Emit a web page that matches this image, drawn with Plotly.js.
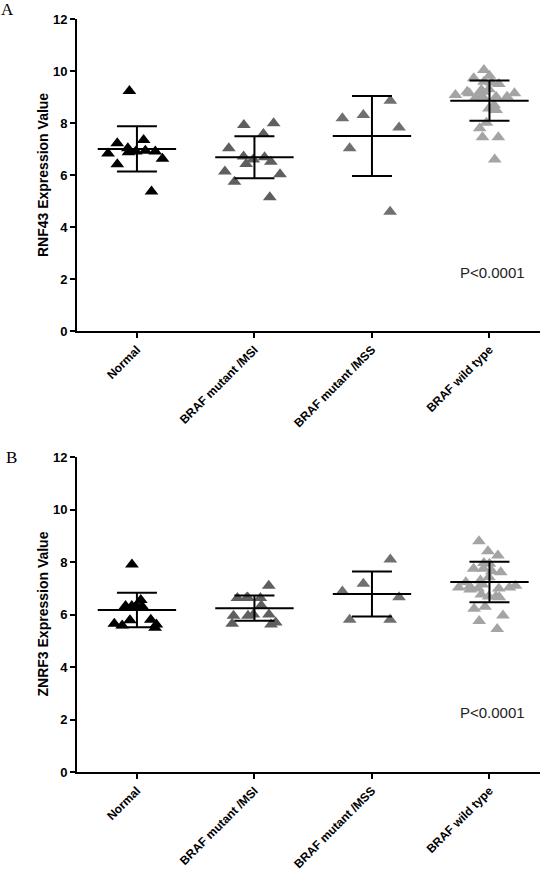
<!DOCTYPE html>
<html><head><meta charset="utf-8">
<script src="https://cdn.plot.ly/plotly-3.0.1.min.js"></script>
<style>html,body{margin:0;padding:0;background:#fff}#chart{width:550px;height:871px}</style>
</head><body><div id="chart"></div><script>
// Categories
var categories = ["Normal", "BRAF mutant /MSI", "BRAF mutant /MSS", "BRAF wild type"];

// Panel A: RNF43 expression values per group
var rnf43Normal = [9.23, 7.35, 7.22, 7.03, 6.93, 6.90, 6.90, 6.87, 6.83, 6.62, 6.41, 5.36];
var rnf43MSI = [7.92, 7.99, 7.58, 7.03, 6.71, 6.60, 6.42, 6.51, 6.68, 6.03, 6.13, 5.74, 5.14];
var rnf43MSS = [8.86, 8.31, 8.18, 7.83, 7.03, 4.59];
var rnf43WT = [10.04, 9.55, 9.82, 9.72, 9.59, 9.50, 9.30, 9.20, 9.14, 9.14, 9.20, 9.27, 9.01,
               8.95, 9.01, 9.01, 8.98, 9.08, 8.69, 8.50, 8.56, 8.01, 7.80, 7.45, 7.45, 6.60];
var rnf43Mean = [7.00, 6.68, 7.50, 8.86];
var rnf43SD = [0.87, 0.81, 1.54, 0.77];

// Panel B: ZNRF3 expression values per group
var znrf3Normal = [7.91, 6.32, 6.32, 6.32, 6.32, 6.55, 5.78, 5.62, 5.50, 5.58, 5.65, 5.80];
var znrf3MSI = [7.10, 6.63, 6.63, 6.63, 6.65, 6.34, 6.00, 5.95, 5.95, 6.00, 5.65, 5.70, 5.62];
var znrf3MSS = [8.10, 7.17, 6.88, 6.66, 5.80, 5.80];
var znrf3WT = [8.79, 8.25, 8.41, 7.93, 7.74, 7.96, 7.61, 7.65, 7.74, 7.42, 7.23, 7.30, 7.10,
               6.99, 6.95, 7.03, 6.99, 7.03, 7.07, 7.14, 6.69, 6.76, 6.66, 6.69, 6.30, 6.22,
               5.96, 5.45, 5.75];
var znrf3Mean = [6.17, 6.24, 6.78, 7.24];
var znrf3SD = [0.66, 0.48, 0.86, 0.77];

var yTickVals = [0, 2, 4, 6, 8, 10, 12];
var yTickText = ["0", "2", "4", "6", "8", "10", "12"];
var pLabel = "P<0.0001";

var groupColors = ["#000000", "#5f5f5f", "#707070", "#a4a4a4"];
var xTickFont = {family: "Liberation Sans, Arial, sans-serif", size: 12, color: "#000", weight: "bold"};
var yTickFont = {family: "Liberation Sans, Arial, sans-serif", size: 13, color: "#000", weight: "bold"};

function groupTrace(vals, i, xa, ya) {
  return {
    type: "box", x: vals.map(function(){ return categories[i]; }), y: vals,
    xaxis: xa, yaxis: ya, boxpoints: "all", jitter: 0.85, pointpos: 0, width: 0.7,
    fillcolor: "rgba(0,0,0,0)", line: {color: "rgba(0,0,0,0)", width: 0}, whiskerwidth: 0,
    marker: {symbol: "triangle-up", size: 12, color: groupColors[i], line: {width: 0}},
    showlegend: false, hoverinfo: "y"
  };
}
function meanTrace(means, sds, xa, ya) {
  return {
    type: "scatter", mode: "markers", x: categories, y: means, xaxis: xa, yaxis: ya,
    error_y: {type: "data", array: sds, visible: true, color: "#000", thickness: 2, width: 20},
    marker: {symbol: "line-ew", size: 56, color: "#000", line: {width: 2, color: "#000"}},
    showlegend: false, hoverinfo: "y"
  };
}

var data = [
  groupTrace(rnf43Normal, 0, "x", "y"), groupTrace(rnf43MSI, 1, "x", "y"),
  groupTrace(rnf43MSS, 2, "x", "y"), groupTrace(rnf43WT, 3, "x", "y"),
  groupTrace(znrf3Normal, 0, "x2", "y2"), groupTrace(znrf3MSI, 1, "x2", "y2"),
  groupTrace(znrf3MSS, 2, "x2", "y2"), groupTrace(znrf3WT, 3, "x2", "y2"),
  meanTrace(rnf43Mean, rnf43SD, "x", "y"), meanTrace(znrf3Mean, znrf3SD, "x2", "y2")
];

function xAxis(anchor) {
  return {
    anchor: anchor, type: "category", categoryorder: "array", categoryarray: categories,
    range: [-0.51, 3.43], showgrid: false, zeroline: false, showline: true, linewidth: 2,
    linecolor: "#000", ticks: "outside", ticklen: 5, tickwidth: 2, tickcolor: "#000",
    tickangle: -45, tickfont: xTickFont, automargin: false, fixedrange: true
  };
}
function yAxis(anchor, domain) {
  return {
    anchor: anchor, domain: domain, range: [0, 12], tickvals: yTickVals, ticktext: yTickText,
    showgrid: false, zeroline: false, showline: true, linewidth: 2, linecolor: "#000",
    ticks: "outside", ticklen: 5, tickwidth: 2, tickcolor: "#000", tickfont: yTickFont,
    automargin: false, fixedrange: true
  };
}

var layout = {
  width: 550, height: 871, paper_bgcolor: "#fff", plot_bgcolor: "#fff",
  margin: {l: 77, r: 10, t: 19, b: 99}, showlegend: false, boxmode: "overlay",
  xaxis: xAxis("y"), yaxis: yAxis("x", [0.5857, 1]),
  xaxis2: xAxis("y2"), yaxis2: yAxis("x2", [0, 0.4183]),
  annotations: [
    {text: "A", xref: "paper", yref: "paper", x: -0.151, y: 1.012, showarrow: false,
     xanchor: "center", yanchor: "middle", font: {family: "Liberation Serif, Times New Roman, serif", size: 17, color: "#000"}},
    {text: "B", xref: "paper", yref: "paper", x: -0.142, y: 0.4183, showarrow: false,
     xanchor: "center", yanchor: "middle", font: {family: "Liberation Serif, Times New Roman, serif", size: 17, color: "#000"}},
    {text: "RNF43 Expression Value", xref: "paper", yref: "paper", x: -0.0734, y: 0.7928,
     textangle: -90, showarrow: false, xanchor: "center", yanchor: "middle",
     font: {family: "Liberation Sans, Arial, sans-serif", size: 14, color: "#000", weight: "bold"}},
    {text: "ZNRF3 Expression Value", xref: "paper", yref: "paper", x: -0.0734, y: 0.2092,
     textangle: -90, showarrow: false, xanchor: "center", yanchor: "middle",
     font: {family: "Liberation Sans, Arial, sans-serif", size: 14, color: "#000", weight: "bold"}},
    {text: pLabel, xref: "x", yref: "y", x: 3.03, y: 2.23, showarrow: false,
     xanchor: "center", yanchor: "middle", font: {family: "Liberation Sans, Arial, sans-serif", size: 15, color: "#222"}},
    {text: pLabel, xref: "x2", yref: "y2", x: 3.03, y: 2.27, showarrow: false,
     xanchor: "center", yanchor: "middle", font: {family: "Liberation Sans, Arial, sans-serif", size: 15, color: "#222"}}
  ]
};

Plotly.newPlot("chart", data, layout, {staticPlot: true, displayModeBar: false});
</script></body></html>
